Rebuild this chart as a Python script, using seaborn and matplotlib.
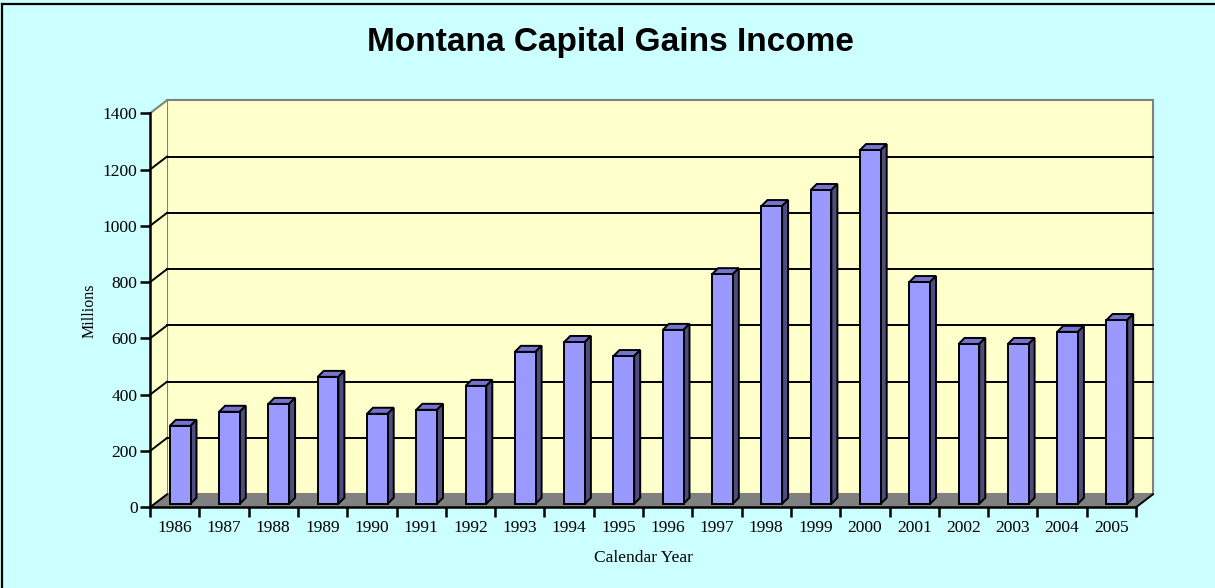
import numpy as np
import pandas as pd
import seaborn as sns
import matplotlib.pyplot as plt
from matplotlib.patches import Polygon, Rectangle
from matplotlib.lines import Line2D

years = [str(y) for y in range(1986, 2006)]
gains = [277, 327, 355, 451, 320, 334, 419, 540, 575, 525,
         618, 816, 1058, 1115, 1257, 788, 568, 568, 611, 653]
yticks = [0, 200, 400, 600, 800, 1000, 1200, 1400]

df = pd.DataFrame({"Year": years, "Millions": gains})

W, H = 1215, 588
fig = plt.figure(figsize=(W / 100, H / 100), dpi=100)
fig.patch.set_facecolor("#CCFFFF")

# front plane of the 3d box, in pixels
left, right, bottom, top = 150, 1136, 507.3, 113.3
ax = fig.add_axes([left / W, 1 - bottom / H, (right - left) / W, (bottom - top) / H])
ax.set_facecolor("none")
ax.set_xlim(-0.5, 19.5)
ax.set_ylim(0, 1400)

ux = 20 / (right - left)       # data units per pixel
uy = 1400 / (bottom - top)

# walls
wdx, wdy = 17 * ux, 13 * uy
x0, x1 = -0.5, 19.5
ax.add_patch(Rectangle((x0 + wdx, wdy), x1 - x0, 1400, facecolor="#FFFFCC",
                       edgecolor="#808080", lw=1.5, zorder=0, clip_on=False))
ax.add_patch(Polygon([(x0, 0), (x0, 1400), (x0 + wdx, 1400 + wdy), (x0 + wdx, wdy)],
                     closed=True, facecolor="#FFFFCC", edgecolor="none", zorder=0, clip_on=False))
ax.add_line(Line2D([x0, x0 + wdx], [1400, 1400 + wdy], color="#808080", lw=1.5, zorder=0.4, clip_on=False))
for v in yticks[1:-1]:
    ax.add_line(Line2D([x0 + wdx, x1 + wdx], [v + wdy, v + wdy], color="black", lw=1.4, zorder=0.5, clip_on=False))
    ax.add_line(Line2D([x0, x0 + wdx], [v, v + wdy], color="black", lw=1.4, zorder=0.5, clip_on=False))
ax.add_patch(Polygon([(x0, 0), (x1, 0), (x1 + wdx, wdy), (x0 + wdx, wdy)],
                     closed=True, facecolor="#808080", edgecolor="none", zorder=0.6, clip_on=False))
ax.add_line(Line2D([x0, x0 + wdx], [0, wdy], color="black", lw=1.4, zorder=0.7, clip_on=False))
ax.add_line(Line2D([x1, x1 + wdx], [0, wdy], color="black", lw=1.4, zorder=0.7, clip_on=False))

# bars
sns.barplot(data=df, x="Year", y="Millions", color="#9999FF", saturation=1,
            width=0.42, edgecolor="black", linewidth=1.4, ax=ax, zorder=2)

ox, oy = 5.5 * ux, 3.5 * uy
bdx, bdy = 6 * ux, 6 * uy
for p in ax.patches:
    if p.get_facecolor()[:3] != (0.6, 0.6, 1.0):
        continue
    p.set_x(p.get_x() + ox)
    p.set_y(oy)
    bx0, bx1 = p.get_x(), p.get_x() + p.get_width()
    by0, by1 = oy, oy + p.get_height()
    ax.add_patch(Polygon([(bx0, by1), (bx1, by1), (bx1 + bdx, by1 + bdy), (bx0 + bdx, by1 + bdy)],
                         closed=True, facecolor="#7474D0", edgecolor="black", lw=1.4, zorder=1.9, clip_on=False))
    ax.add_patch(Polygon([(bx1, by0), (bx1, by1), (bx1 + bdx, by1 + bdy), (bx1 + bdx, by0 + bdy)],
                         closed=True, facecolor="#4D4D80", edgecolor="black", lw=1.4, zorder=1.9, clip_on=False))

# axes
for s in ["top", "right"]:
    ax.spines[s].set_visible(False)
for s in ["left", "bottom"]:
    ax.spines[s].set_color("black")
    ax.spines[s].set_linewidth(1.8)
    ax.spines[s].set_zorder(3)

serif = ["Liberation Serif", "DejaVu Serif"]
ax.set_yticks(yticks)
ax.set_yticklabels([str(v) for v in yticks], family=serif, fontsize=12.5)
ax.tick_params(axis="y", length=7, width=1.8, pad=2, color="black")
ax.set_xticks(np.arange(20))
ax.set_xticklabels(years, family=serif, fontsize=12.5)
ax.set_xticks(np.arange(-0.5, 20, 1), minor=True)
ax.tick_params(axis="x", which="major", length=0, pad=9)
ax.tick_params(axis="x", which="minor", length=7, width=1.8, color="black")
ax.grid(False)

ax.set_xlabel("Calendar Year", family=serif, fontsize=12.5, labelpad=10)
ax.set_ylabel("Millions", family=serif, fontsize=11.5, labelpad=4)

fig.text(610 / W, 1 - 42 / H, "Montana Capital Gains Income", ha="center", va="center",
         family=["Liberation Sans", "DejaVu Sans"], fontweight="bold", fontsize=24)

# chart border (left and top edges visible)
fig.add_artist(Line2D([2 / W, 2 / W], [0, 1 - 4.3 / H], transform=fig.transFigure, color="black", lw=1.6))
fig.add_artist(Line2D([2 / W, 1], [1 - 4.3 / H, 1 - 4.3 / H], transform=fig.transFigure, color="black", lw=1.6))

fig.savefig("out.png", dpi=100, facecolor=fig.get_facecolor())
